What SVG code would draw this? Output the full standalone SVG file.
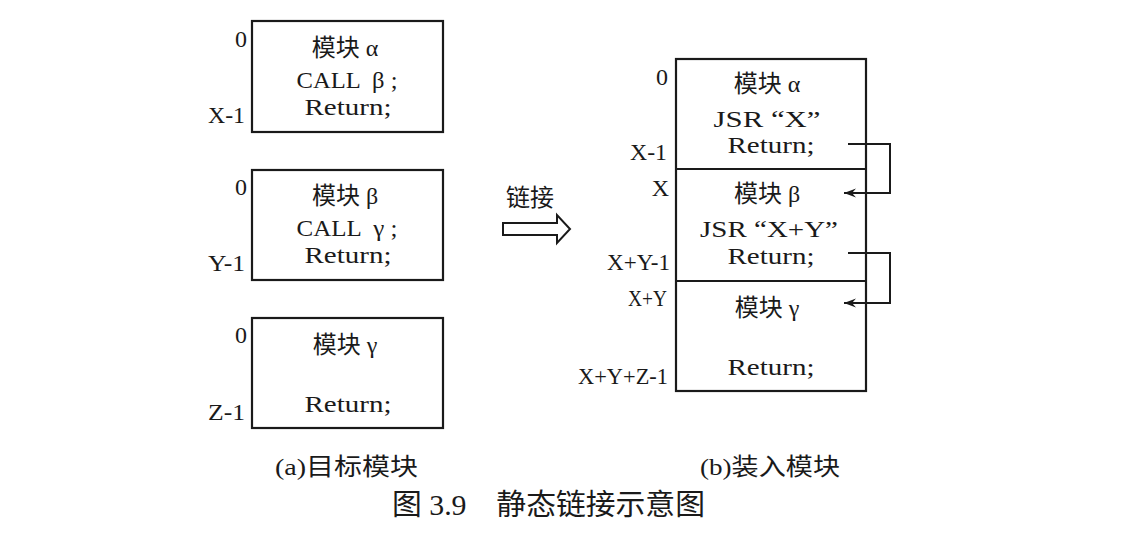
<svg xmlns="http://www.w3.org/2000/svg" width="1129" height="539" viewBox="0 0 1129 539">
<defs>
<style>
.box{fill:#fff;stroke:#1a1a1a;stroke-width:2.2}
.t{font-family:"Liberation Serif","Noto Sans CJK SC",serif;font-size:24px;fill:#1a1a1a;white-space:pre}
.c{text-anchor:middle}
.r{text-anchor:end}
.ln{fill:none;stroke:#1a1a1a;stroke-width:2}
.title{font-family:"Liberation Serif","Noto Sans CJK SC",serif;font-size:29px;fill:#1a1a1a;white-space:pre}
</style>
<marker id="ah" markerWidth="14" markerHeight="10" refX="12" refY="5" orient="auto" markerUnits="userSpaceOnUse">
<path d="M0,0.5 L12,5 L0,9.5 L4,5 Z" fill="#1a1a1a"/>
</marker>
</defs>
<rect width="1129" height="539" fill="#fff"/>

<g id="module-alpha">
<rect class="box" x="252" y="21" width="191" height="111"/>
<text class="t c" x="345" y="56">模块 α</text>
<text class="t c" x="347" y="88" textLength="101" lengthAdjust="spacingAndGlyphs">CALL  β ;</text>
<text class="t c" x="348" y="115" textLength="87" lengthAdjust="spacingAndGlyphs">Return;</text>
<text class="t r" x="247" y="47">0</text>
<text class="t r" x="245" y="123" textLength="37" lengthAdjust="spacingAndGlyphs">X-1</text>
</g>

<g id="module-beta">
<rect class="box" x="252" y="170" width="191" height="110"/>
<text class="t c" x="345" y="204">模块 β</text>
<text class="t c" x="347" y="236" textLength="101" lengthAdjust="spacingAndGlyphs">CALL  γ ;</text>
<text class="t c" x="348" y="263" textLength="87" lengthAdjust="spacingAndGlyphs">Return;</text>
<text class="t r" x="247" y="195">0</text>
<text class="t r" x="245" y="271" textLength="37" lengthAdjust="spacingAndGlyphs">Y-1</text>
</g>

<g id="module-gamma">
<rect class="box" x="252" y="318" width="191" height="110"/>
<text class="t c" x="345" y="353">模块 γ</text>
<text class="t c" x="348" y="412" textLength="87" lengthAdjust="spacingAndGlyphs">Return;</text>
<text class="t r" x="247" y="343">0</text>
<text class="t r" x="245" y="420" textLength="37" lengthAdjust="spacingAndGlyphs">Z-1</text>
</g>

<g id="caption-a">
<text class="t" x="275" y="475" textLength="143" lengthAdjust="spacingAndGlyphs">(a)目标模块</text>
</g>

<g id="link-arrow">
<text class="t c" x="530" y="206">链接</text>
<path class="ln" d="M503,223 H557 V215 L570,229 L557,243 V235 H503 Z"/>
</g>

<g id="load-module">
<rect class="box" x="676" y="59" width="190" height="332"/>
<line class="ln" x1="676" y1="169" x2="866" y2="169" stroke-width="2.2"/>
<line class="ln" x1="676" y1="281" x2="866" y2="281" stroke-width="2.2"/>
<text class="t c" x="767" y="92">模块 α</text>
<text class="t c" x="767" y="127" textLength="107" lengthAdjust="spacingAndGlyphs">JSR “X”</text>
<text class="t c" x="771" y="153" textLength="87" lengthAdjust="spacingAndGlyphs">Return;</text>
<text class="t c" x="767" y="202">模块 β</text>
<text class="t c" x="769" y="237" textLength="138" lengthAdjust="spacingAndGlyphs">JSR “X+Y”</text>
<text class="t c" x="771" y="264" textLength="87" lengthAdjust="spacingAndGlyphs">Return;</text>
<text class="t c" x="767" y="316">模块 γ</text>
<text class="t c" x="771" y="375" textLength="87" lengthAdjust="spacingAndGlyphs">Return;</text>
<text class="t r" x="668" y="85">0</text>
<text class="t r" x="667" y="160" textLength="37" lengthAdjust="spacingAndGlyphs">X-1</text>
<text class="t r" x="669" y="196">X</text>
<text class="t r" x="670" y="270" textLength="63" lengthAdjust="spacingAndGlyphs">X+Y-1</text>
<text class="t r" x="667" y="306" textLength="39" lengthAdjust="spacingAndGlyphs">X+Y</text>
<text class="t r" x="668" y="384" textLength="90" lengthAdjust="spacingAndGlyphs">X+Y+Z-1</text>
</g>

<g id="connectors">
<path class="ln" d="M848,144 H890 V193 H844" marker-end="url(#ah)"/>
<path class="ln" d="M848,253 H890 V303 H844" marker-end="url(#ah)"/>
</g>

<g id="caption-b">
<text class="t" x="700" y="475" textLength="140" lengthAdjust="spacingAndGlyphs">(b)装入模块</text>
</g>

<g id="figure-title">
<text class="title" x="392" y="515" textLength="313" lengthAdjust="spacingAndGlyphs">图 3.9    静态链接示意图</text>
</g>
</svg>
